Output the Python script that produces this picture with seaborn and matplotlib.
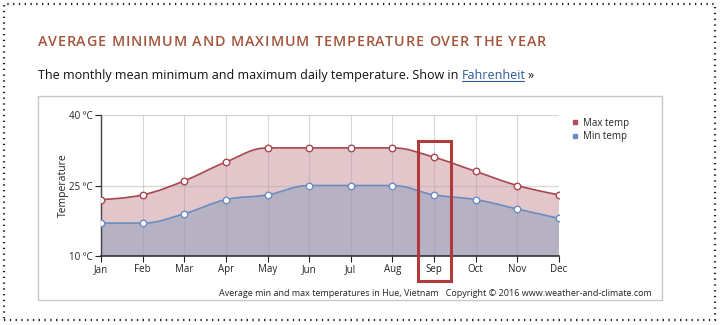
import numpy as np
import pandas as pd
import seaborn as sns
import matplotlib
matplotlib.use("Agg")
import matplotlib.pyplot as plt
from matplotlib.path import Path
from matplotlib.patches import PathPatch, Rectangle
from matplotlib.lines import Line2D

# Monthly climate values for Hue, Vietnam (degrees Celsius)
months = ["Jan", "Feb", "Mar", "Apr", "May", "Jun", "Jul", "Aug", "Sep", "Oct", "Nov", "Dec"]
max_temp = [22, 23, 26, 30, 33, 33, 33, 33, 31, 28, 25, 23]
min_temp = [17, 17, 19, 22, 23, 25, 25, 25, 23, 22, 20, 18]
y_ticks = [10, 25, 40]
y_tick_labels = ["10 ºC", "25 ºC", "40 ºC"]
highlight_month = "Sep"

W, H = 720, 325
sns.set_theme(style="white")
plt.rcParams["font.family"] = ["Open Sans", "DejaVu Sans"]

df = pd.DataFrame({"month": months, "x": np.arange(len(months)),
                   "max": max_temp, "min": min_temp})

fig = plt.figure(figsize=(W / 100, H / 100), dpi=100)
fig.patch.set_facecolor("white")


def px(x0, y0, x1, y1):
    """Figure-fraction rectangle from pixel corners (top-left origin)."""
    return [x0 / W, 1 - y1 / H, (x1 - x0) / W, (y1 - y0) / H]


ax = fig.add_axes(px(101, 115, 559, 256))


def spline_vertices(xs, ys, smoothing=1.5):
    """Bezier vertices for a smooth curve through the points (spline style)."""
    n = len(xs)
    denom = smoothing + 1
    lc = [None] * n
    rc = [None] * n
    for i in range(1, n - 1):
        lx = (smoothing * xs[i] + xs[i - 1]) / denom
        ly = (smoothing * ys[i] + ys[i - 1]) / denom
        rx = (smoothing * xs[i] + xs[i + 1]) / denom
        ry = (smoothing * ys[i] + ys[i + 1]) / denom
        corr = ((ry - ly) * (rx - xs[i])) / (rx - lx) + ys[i] - ry
        ly += corr
        ry += corr
        if ly > ys[i - 1] and ly > ys[i]:
            ly = max(ys[i - 1], ys[i]); ry = 2 * ys[i] - ly
        elif ly < ys[i - 1] and ly < ys[i]:
            ly = min(ys[i - 1], ys[i]); ry = 2 * ys[i] - ly
        if ry > ys[i + 1] and ry > ys[i]:
            ry = max(ys[i + 1], ys[i]); ly = 2 * ys[i] - ry
        elif ry < ys[i + 1] and ry < ys[i]:
            ry = min(ys[i + 1], ys[i]); ly = 2 * ys[i] - ry
        lc[i] = (lx, ly)
        rc[i] = (rx, ry)
    verts = [(xs[0], ys[0])]
    codes = [Path.MOVETO]
    for i in range(1, n):
        c1 = rc[i - 1] if rc[i - 1] else (xs[i - 1], ys[i - 1])
        c2 = lc[i] if lc[i] else (xs[i], ys[i])
        verts += [c1, c2, (xs[i], ys[i])]
        codes += [Path.CURVE4] * 3
    return verts, codes


base = 10
series = [("max", "#e0c0c5", "#a8474f"), ("min", "#b2b0c3", "#6a8cc0")]
for col, fill, line in series:
    xs = df["x"].tolist()
    ys = df[col].tolist()
    v, c = spline_vertices(xs, ys)
    area_v = v + [(xs[-1], base), (xs[0], base), (xs[0], ys[0])]
    area_c = c + [Path.LINETO, Path.LINETO, Path.CLOSEPOLY]
    ax.add_patch(PathPatch(Path(area_v, area_c), facecolor=fill, edgecolor="none",
                           alpha=0.9, zorder=1))
    ax.add_patch(PathPatch(Path(v, c), facecolor="none", edgecolor=line, lw=1.2, zorder=3))
    sns.scatterplot(data=df, x="x", y=col, ax=ax, s=22, color="white",
                    edgecolor=line, linewidth=1.0, zorder=4, legend=False)

# grid over the fills, kept faint
for xv in df["x"]:
    ax.axvline(xv, color="#9e9aa8", lw=0.8, alpha=0.4, zorder=2)
for yv in y_ticks[1:]:
    ax.axhline(yv, color="#b0aab0", lw=1.0, alpha=0.45, zorder=2)

ax.set_xlim(0, len(months) - 1)
ax.set_ylim(10, 40)
ax.set_xticks(df["x"], months)
ax.set_yticks(y_ticks, y_tick_labels)
ax.set_xlabel("")
ax.set_ylabel("Temperature", fontsize=7.5, color="#222", labelpad=0)
ax.tick_params(axis="both", labelsize=7, colors="#222", length=4, width=0.8,
               direction="out", pad=2)
ax.tick_params(axis="x", bottom=True)
ax.tick_params(axis="y", left=True)
for s in ["top", "right"]:
    ax.spines[s].set_visible(False)
ax.spines["left"].set_color("#444")
ax.spines["bottom"].set_color("#333")
ax.spines["left"].set_linewidth(1.0)
ax.spines["bottom"].set_linewidth(1.2)
ax.set_facecolor("white")
ax.patch.set_alpha(0)

# legend
handles = [Line2D([], [], marker="s", ls="none", color="#b0505a", markersize=3.5),
           Line2D([], [], marker="s", ls="none", color="#6a8cc0", markersize=3.5)]
fig.legend(handles, ["Max temp", "Min temp"], loc="upper left",
           bbox_to_anchor=(566 / W, 1 - 114 / H), frameon=False, fontsize=7,
           handletextpad=0.3, labelspacing=0.25, handlelength=1.0, borderaxespad=0)

# chart frame
fig.add_artist(Rectangle((38 / W, 1 - 300 / H), (662 - 38) / W, (300 - 96) / H,
                         transform=fig.transFigure, fill=False, ec="#c8c8c8", lw=1.0))

# highlighted month box
hx = months.index(highlight_month)
x_disp = ax.transData.transform((hx, 10))[0]
fig.add_artist(Rectangle(((x_disp - 16) / W, 1 - 281 / H), 33 / W, 140 / H,
                         transform=fig.transFigure, fill=False, ec="#b03a3c", lw=2.2,
                         zorder=10))

# footer
fig.text(652 / W, 1 - 293 / H,
         "Average min and max temperatures in Hue, Vietnam   Copyright © 2016 www.weather-and-climate.com",
         ha="right", va="center", fontsize=6.5, color="#222")

fig.canvas.draw()
r = fig.canvas.get_renderer()


def text_width(s, **kw):
    if not s:
        return 0.0
    t = fig.text(0, 0, s, **kw)
    w = t.get_window_extent(r).width
    t.remove()
    return w


def spaced_text(x_px, y_px, s, total_px, **kw):
    """Draw text letter by letter, tracked out to span total_px pixels."""
    space_w = text_width("X X", **kw) - text_width("XX", **kw)
    words = s.split(" ")
    natural = sum(text_width(w, **kw) for w in words) + space_w * (len(words) - 1)
    gaps = len(s) - 1
    spacing = (total_px - natural) / gaps
    x = x_px
    for word in words:
        for j, ch in enumerate(word):
            # ink-left position of glyph j inside the untracked word
            off = text_width(word[:j + 1], **kw) - text_width(ch, **kw)
            fig.text((x + off + j * spacing) / W, 1 - y_px / H, ch, ha="left",
                     va="center", **kw)
        x += text_width(word, **kw) + (len(word) - 1) * spacing + space_w + spacing * 2


# page heading and intro line
title_kw = dict(fontsize=10.3, color="#a3543a", fontweight="semibold")
spaced_text(38, 42, "AVERAGE MINIMUM AND MAXIMUM TEMPERATURE OVER THE YEAR", 508, **title_kw)

intro = fig.text(38 / W, 1 - 75 / H,
                 "The monthly mean minimum and maximum daily temperature. Show in",
                 ha="left", va="center", fontsize=9.0, color="#111")
bb = intro.get_window_extent(r)
link = fig.text((bb.x1 + 3) / W, 1 - 75 / H, "Fahrenheit", ha="left", va="center",
                fontsize=9.0, color="#2a5a9a")
bl = link.get_window_extent(r)
fig.add_artist(Line2D([(bl.x0 + 1) / W, (bl.x1 - 1) / W], [(bl.y0 + 1) / H, (bl.y0 + 1) / H],
                      transform=fig.transFigure, color="#2a5a9a", lw=0.8))
fig.text((bl.x1 + 2) / W, 1 - 75 / H, "»", ha="left", va="center", fontsize=9.0, color="#111")

# dotted page border
fig.add_artist(Rectangle((4 / W, 1 - 320 / H), 711 / W, 316 / H, transform=fig.transFigure,
                         fill=False, ec="#222", lw=1.6, ls=(0, (0.6, 2.0))))

fig.savefig("out.png", dpi=100)
